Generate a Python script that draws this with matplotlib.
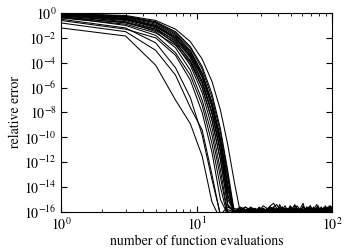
import numpy as np
import matplotlib.pyplot as plt

plt.rcParams['font.family'] = 'STIXGeneral'
plt.rcParams['mathtext.fontset'] = 'stix'
plt.rcParams['font.size'] = 10

# function evaluations (odd counts)
evals = np.arange(1, 100, 2)

# log10 of the relative error while converging
decay = [
    [-1.2, -1.85, -4.2, -7.0, -8.9, -11.5, -15.2, -16.6],
    [-0.8, -1.5, -3.0, -5.0, -7.6, -9.4, -13.0, -16.3],
    [-0.5, -1.2, -2.4, -4.4, -6.8, -9.8, -13.4, -16.2],
    [-0.3, -1.0, -1.8, -3.2, -5.0, -7.4, -10.5, -14.0, -16.4],
    [-0.2, -0.7, -1.5, -2.8, -4.6, -7.0, -9.8, -13.2, -16.2],
    [-0.1, -0.5, -1.2, -2.3, -3.9, -6.0, -8.6, -11.8, -15.4, -16.0],
    [-0.25, -0.6, -1.3, -2.5, -4.2, -6.4, -9.2, -12.6, -16.1],
    [-0.15, -0.4, -1.0, -2.0, -3.5, -5.5, -8.0, -11.0, -14.6, -16.0],
    [-0.05, -0.3, -0.8, -1.7, -3.0, -4.8, -7.2, -10.2, -13.8, -16.2],
    [-0.3, -0.8, -1.4, -2.4, -3.8, -5.7, -8.1, -11.1, -14.7, -16.1],
    [-0.1, -0.45, -1.1, -2.1, -3.4, -5.2, -7.6, -10.6, -14.2, -16.0],
    [-0.02, -0.25, -0.7, -1.5, -2.7, -4.3, -6.5, -9.3, -12.7, -16.0],
    [-0.2, -0.55, -1.0, -1.9, -3.2, -5.0, -7.4, -10.4, -14.0, -16.3],
    [-0.4, -0.9, -1.6, -2.6, -4.0, -6.0, -8.6, -11.8, -15.5, -16.0],
    [-0.08, -0.35, -0.9, -1.8, -3.1, -4.9, -7.2, -10.0, -13.3, -16.1],
    [-0.12, -0.5, -1.1, -2.0, -3.3, -5.1, -7.4, -10.3, -13.9, -16.2],
    [-0.05, -0.2, -0.6, -1.3, -2.3, -3.7, -5.5, -7.8, -10.6, -13.6, -16.0],
    [-0.15, -0.3, -0.75, -1.6, -2.8, -4.5, -6.8, -9.6, -13.0, -16.3],
    [-0.35, -0.75, -1.3, -2.2, -3.6, -5.5, -8.0, -11.2, -15.0, -16.0],
    [-0.6, -1.3, -2.0, -3.4, -5.4, -8.0, -11.2, -15.0, -16.2],
]

# round-off noise after convergence, tenths of a decade above 1e-16
tail = [
    [2,0,1,0,3,1,0,0,2,4,1,0,0,1,3,2,0,1,0,0,2,1,5,2,0,1,0,3,1,0,2,0,1,4,2,0,1,0,2,1,0,3],
    [0,3,1,2,0,0,1,5,3,1,0,2,0,0,1,1,3,0,2,0,1,0,0,2,4,1,0,1,2,0,0,3,1,0,2,1,0,1,3,0,2,1],
    [4,1,0,2,1,0,3,0,1,2,0,0,6,2,1,0,1,3,0,2,1,0,0,1,2,3,1,0,4,2,1,0,0,2,1,3,0,1,0,2,5,1],
    [1,0,0,3,2,0,1,1,0,4,6,2,0,1,0,0,2,1,3,1,0,0,1,2,0,3,1,0,0,2,1,0,3,2,0,1,1,0,2,0,1,4],
    [0,2,4,1,0,0,2,1,3,0,0,1,2,0,1,5,3,0,1,0,2,0,1,1,0,3,2,0,0,1,4,1,0,2,0,1,3,0,1,2,0,0],
    [3,1,0,1,0,2,0,0,1,3,2,1,0,0,4,1,0,2,1,0,0,3,1,2,0,1,0,0,2,5,1,0,1,3,0,0,2,1,0,1,3,0],
    [1,4,2,0,0,1,0,3,1,0,2,0,1,1,0,0,3,2,1,0,4,7,2,0,1,0,0,2,1,3,0,1,0,2,0,1,4,2,0,0,1,2],
    [0,0,2,1,3,0,1,0,0,2,1,4,2,0,1,0,3,1,0,0,2,1,0,3,5,2,0,1,0,1,2,0,0,3,1,0,2,0,1,4,1,0],
    [2,1,0,0,1,3,0,2,4,1,0,0,1,2,0,3,1,0,2,0,0,1,3,0,1,2,0,4,6,3,1,0,0,2,1,0,1,3,0,2,0,1],
    [0,1,3,0,2,1,0,0,3,1,0,2,5,1,0,1,0,2,0,0,1,3,2,0,1,0,0,2,1,4,2,0,1,0,3,1,0,0,2,1,3,0],
    [3,0,1,2,0,1,0,4,2,0,0,1,0,3,1,0,2,1,0,0,4,2,1,0,0,3,1,0,2,0,1,0,0,2,3,1,0,5,2,0,1,1],
    [1,2,0,0,4,1,0,1,0,2,3,0,1,0,0,2,1,5,3,0,1,0,2,0,0,1,3,1,0,2,0,0,1,4,2,1,0,0,3,0,1,2],
    [0,1,0,3,1,0,2,5,7,3,1,0,0,2,1,0,1,3,0,0,2,1,0,4,1,0,2,0,1,0,3,2,0,1,0,0,2,1,4,1,0,0],
    [2,0,3,1,0,0,1,2,0,1,4,2,0,0,3,1,0,1,2,0,0,1,3,0,2,1,0,0,4,2,1,0,1,0,2,0,3,1,0,1,0,2],
    [0,4,1,0,2,0,1,0,3,1,0,2,1,0,0,3,6,2,0,1,0,0,2,1,3,0,1,0,2,0,0,4,1,0,1,3,0,2,0,1,0,3],
    [1,0,2,0,0,3,1,0,2,1,0,4,1,0,2,0,0,1,3,1,0,2,0,0,5,2,1,0,1,3,0,0,2,1,0,1,4,0,2,0,1,0],
    [0,2,1,0,3,0,0,1,2,4,1,0,0,2,1,3,0,1,0,2,0,4,1,0,0,1,2,0,3,1,0,0,2,1,0,3,1,0,4,2,0,1],
    [3,1,0,0,2,1,0,3,0,1,2,0,0,1,4,2,0,1,0,3,1,0,0,2,1,0,1,3,0,2,0,0,1,2,5,1,0,1,0,2,1,0],
    [1,0,4,2,0,1,0,0,2,1,3,0,1,0,2,0,5,3,1,0,0,2,1,0,1,3,0,2,0,1,0,0,3,1,2,0,1,4,1,0,2,0],
    [0,3,0,1,0,2,1,0,4,2,0,0,1,3,1,0,2,0,0,1,2,0,3,1,0,0,2,4,1,0,1,0,2,0,3,1,0,2,1,0,0,4],
]

fig = plt.figure(figsize=(3.5, 2.5), dpi=100)
ax = fig.add_axes([0.174, 0.152, 0.775, 0.796])

for d, t in zip(decay, tail):
    logerr = (list(d) + [-16 + v / 10 for v in t])[:len(evals)]
    ax.loglog(evals, 10.0 ** np.array(logerr), color='k', lw=0.75)

ax.set_xlim(1, 100)
ax.set_ylim(1e-16, 1)
ax.set_yticks(10.0 ** np.arange(-16, 1, 2))
ax.yaxis.set_minor_locator(plt.NullLocator())
ax.tick_params(which='both', direction='in', top=True, right=True)
ax.tick_params(which='major', length=4, pad=3)
ax.tick_params(which='minor', length=2)

ax.set_xlabel('number of function evaluations', labelpad=1)
ax.set_ylabel('relative error', labelpad=2)

fig.savefig('out.png', dpi=100)
